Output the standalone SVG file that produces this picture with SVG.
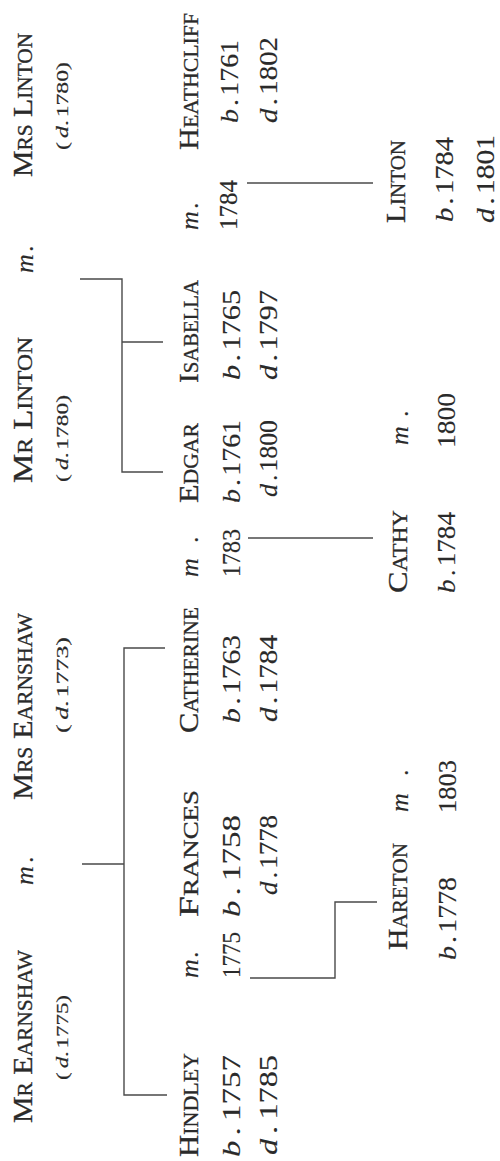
<svg xmlns="http://www.w3.org/2000/svg" width="500" height="1161" viewBox="0 0 500 1161">
<style>
text { font-family: "Liberation Serif", "Times New Roman", serif; fill: #2a2a2a; stroke: #2a2a2a; stroke-width: 0.3; }
.nm { font-size: 28px; font-variant: small-caps; }
.dt { font-size: 26px; stroke-width: 0.15; }
.pd { font-size: 17px; stroke-width: 0.2; }
.i { font-style: italic; }
.con { fill: none; stroke: #4a4a4a; stroke-width: 1.4; }
</style>
<rect width="500" height="1161" fill="#ffffff"/>

<g id="connectors">
  <path class="con" d="M165,648 H124 V1095 H167 M82,864 H124"/>
  <path class="con" d="M80,279 H122 V472 H163 M122,342 H163"/>
  <path class="con" d="M250,978 H335 V902 H377"/>
  <path class="con" d="M248,538 H373"/>
  <path class="con" d="M247,183 H373"/>
</g>

<g id="mr-earnshaw">
  <text class="nm" transform="translate(32,1123) rotate(-90)" textLength="173" lengthAdjust="spacingAndGlyphs">Mr Earnshaw</text>
  <text class="pd" transform="translate(68,1080) rotate(-90)" textLength="85" lengthAdjust="spacingAndGlyphs">(<tspan class="i" dx="3">d</tspan>.<tspan dx="2">1775</tspan>)</text>
</g>
<g id="marriage-earnshaw">
  <text class="dt" transform="translate(33,885) rotate(-90)"><tspan class="i">m</tspan><tspan x="22">.</tspan></text>
</g>
<g id="mrs-earnshaw">
  <text class="nm" transform="translate(32,800) rotate(-90)" textLength="187" lengthAdjust="spacingAndGlyphs">Mrs Earnshaw</text>
  <text class="pd" transform="translate(68,733) rotate(-90)" textLength="96" lengthAdjust="spacingAndGlyphs">(<tspan class="i" dx="3">d</tspan>.<tspan dx="2">1773</tspan>)</text>
</g>
<g id="mr-linton">
  <text class="nm" transform="translate(32,483) rotate(-90)" textLength="146" lengthAdjust="spacingAndGlyphs">Mr Linton</text>
  <text class="pd" transform="translate(68,482) rotate(-90)" textLength="87" lengthAdjust="spacingAndGlyphs">(<tspan class="i" dx="3">d</tspan>.<tspan dx="2">1780</tspan>)</text>
</g>
<g id="marriage-linton">
  <text class="dt" transform="translate(33,273) rotate(-90)"><tspan class="i">m</tspan><tspan x="21">.</tspan></text>
</g>
<g id="mrs-linton">
  <text class="nm" transform="translate(32,177) rotate(-90)" textLength="144" lengthAdjust="spacingAndGlyphs">Mrs Linton</text>
  <text class="pd" transform="translate(68,150) rotate(-90)" textLength="88" lengthAdjust="spacingAndGlyphs">(<tspan class="i" dx="3">d</tspan>.<tspan dx="2">1780</tspan>)</text>
</g>

<g id="hindley">
  <text class="nm" transform="translate(198,1157) rotate(-90)" textLength="104" lengthAdjust="spacingAndGlyphs">Hindley</text>
  <text class="dt" transform="translate(240,1157) rotate(-90)" textLength="102" lengthAdjust="spacingAndGlyphs"><tspan class="i">b</tspan><tspan dx="4">.</tspan><tspan dx="5">1757</tspan></text>
  <text class="dt" transform="translate(277,1155) rotate(-90)" textLength="100" lengthAdjust="spacingAndGlyphs"><tspan class="i">d</tspan><tspan dx="4">.</tspan><tspan dx="5">1785</tspan></text>
</g>
<g id="marriage-hindley-frances">
  <text class="dt" transform="translate(198,978) rotate(-90)"><tspan class="i">m</tspan><tspan x="20">.</tspan></text>
  <text class="dt" transform="translate(240,978) rotate(-90)" textLength="46" lengthAdjust="spacingAndGlyphs">1775</text>
</g>
<g id="frances">
  <text class="nm" transform="translate(198,917) rotate(-90)" textLength="127" lengthAdjust="spacingAndGlyphs">Frances</text>
  <text class="dt" transform="translate(240,917) rotate(-90)" textLength="102" lengthAdjust="spacingAndGlyphs"><tspan class="i">b</tspan><tspan dx="4">.</tspan><tspan dx="5">1758</tspan></text>
  <text class="dt" transform="translate(277,895) rotate(-90)" textLength="80" lengthAdjust="spacingAndGlyphs"><tspan class="i">d</tspan><tspan dx="3">.</tspan><tspan dx="3">1778</tspan></text>
</g>
<g id="catherine">
  <text class="nm" transform="translate(198,733) rotate(-90)" textLength="126" lengthAdjust="spacingAndGlyphs">Catherine</text>
  <text class="dt" transform="translate(240,723) rotate(-90)" textLength="88" lengthAdjust="spacingAndGlyphs"><tspan class="i">b</tspan><tspan dx="3">.</tspan><tspan dx="3">1763</tspan></text>
  <text class="dt" transform="translate(277,722) rotate(-90)" textLength="87" lengthAdjust="spacingAndGlyphs"><tspan class="i">d</tspan><tspan dx="3">.</tspan><tspan dx="3">1784</tspan></text>
</g>
<g id="marriage-catherine-edgar">
  <text class="dt" transform="translate(198,577) rotate(-90)"><tspan class="i">m</tspan><tspan x="34">.</tspan></text>
  <text class="dt" transform="translate(240,577) rotate(-90)" textLength="48" lengthAdjust="spacingAndGlyphs">1783</text>
</g>
<g id="edgar">
  <text class="nm" transform="translate(198,503) rotate(-90)" textLength="80" lengthAdjust="spacingAndGlyphs">Edgar</text>
  <text class="dt" transform="translate(240,503) rotate(-90)" textLength="83" lengthAdjust="spacingAndGlyphs"><tspan class="i">b</tspan><tspan dx="3">.</tspan><tspan dx="3">1761</tspan></text>
  <text class="dt" transform="translate(277,497) rotate(-90)" textLength="77" lengthAdjust="spacingAndGlyphs"><tspan class="i">d</tspan><tspan dx="3">.</tspan><tspan dx="3">1800</tspan></text>
</g>
<g id="isabella">
  <text class="nm" transform="translate(198,383) rotate(-90)" textLength="103" lengthAdjust="spacingAndGlyphs">Isabella</text>
  <text class="dt" transform="translate(240,380) rotate(-90)" textLength="90" lengthAdjust="spacingAndGlyphs"><tspan class="i">b</tspan><tspan dx="3">.</tspan><tspan dx="3">1765</tspan></text>
  <text class="dt" transform="translate(277,380) rotate(-90)" textLength="90" lengthAdjust="spacingAndGlyphs"><tspan class="i">d</tspan><tspan dx="3">.</tspan><tspan dx="3">1797</tspan></text>
</g>
<g id="marriage-isabella-heathcliff">
  <text class="dt" transform="translate(198,230) rotate(-90)"><tspan class="i">m</tspan><tspan x="21">.</tspan></text>
  <text class="dt" transform="translate(237,230) rotate(-90)" textLength="50" lengthAdjust="spacingAndGlyphs">1784</text>
</g>
<g id="heathcliff">
  <text class="nm" transform="translate(198,150) rotate(-90)" textLength="137" lengthAdjust="spacingAndGlyphs">Heathcliff</text>
  <text class="dt" transform="translate(238,123) rotate(-90)" textLength="83" lengthAdjust="spacingAndGlyphs"><tspan class="i">b</tspan><tspan dx="3">.</tspan><tspan dx="3">1761</tspan></text>
  <text class="dt" transform="translate(277,123) rotate(-90)" textLength="86" lengthAdjust="spacingAndGlyphs"><tspan class="i">d</tspan><tspan dx="3">.</tspan><tspan dx="3">1802</tspan></text>
</g>

<g id="hareton">
  <text class="nm" transform="translate(407,950) rotate(-90)" textLength="107" lengthAdjust="spacingAndGlyphs">Hareton</text>
  <text class="dt" transform="translate(456,960) rotate(-90)" textLength="83" lengthAdjust="spacingAndGlyphs"><tspan class="i">b</tspan><tspan dx="3">.</tspan><tspan dx="3">1778</tspan></text>
</g>
<g id="marriage-hareton-cathy">
  <text class="dt" transform="translate(408,812) rotate(-90)"><tspan class="i">m</tspan><tspan x="36">.</tspan></text>
  <text class="dt" transform="translate(456,813) rotate(-90)" textLength="53" lengthAdjust="spacingAndGlyphs">1803</text>
</g>
<g id="cathy">
  <text class="nm" transform="translate(407,593) rotate(-90)" textLength="83" lengthAdjust="spacingAndGlyphs">Cathy</text>
  <text class="dt" transform="translate(455,593) rotate(-90)" textLength="81" lengthAdjust="spacingAndGlyphs"><tspan class="i">b</tspan><tspan dx="3">.</tspan><tspan dx="3">1784</tspan></text>
</g>
<g id="marriage-cathy-linton">
  <text class="dt" transform="translate(408,445) rotate(-90)"><tspan class="i">m</tspan><tspan x="28">.</tspan></text>
  <text class="dt" transform="translate(455,448) rotate(-90)" textLength="55" lengthAdjust="spacingAndGlyphs">1800</text>
</g>
<g id="linton">
  <text class="nm" transform="translate(405,223) rotate(-90)" textLength="83" lengthAdjust="spacingAndGlyphs">Linton</text>
  <text class="dt" transform="translate(453,222) rotate(-90)" textLength="85" lengthAdjust="spacingAndGlyphs"><tspan class="i">b</tspan><tspan dx="3">.</tspan><tspan dx="3">1784</tspan></text>
  <text class="dt" transform="translate(494,223) rotate(-90)" textLength="88" lengthAdjust="spacingAndGlyphs"><tspan class="i">d</tspan><tspan dx="3">.</tspan><tspan dx="3">1801</tspan></text>
</g>
</svg>
